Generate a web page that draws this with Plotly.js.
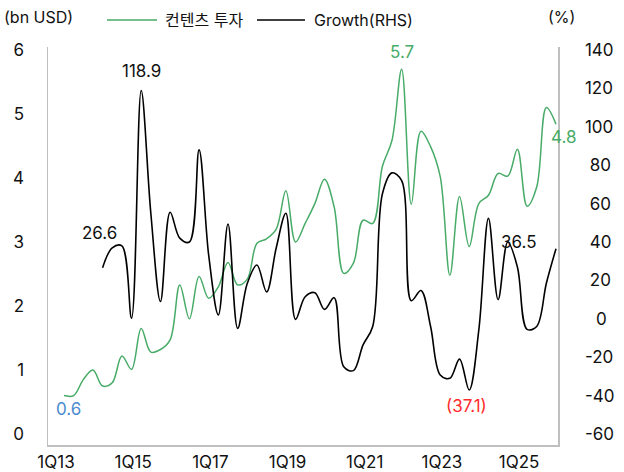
<!DOCTYPE html>
<html>
<head>
<meta charset="utf-8">
<script src="https://cdn.plot.ly/plotly-3.0.1.min.js"></script>
<style>html,body{margin:0;padding:0;background:#fff;}#chart{width:624px;height:472px;}</style>
</head>
<body>
<div id="chart"></div>
<script>
const quarters = [];
for (let y = 13; y <= 25; y++) for (let q = 1; q <= 4; q++) quarters.push(q + 'Q' + y);

const contentInvestment = [
  0.60, 0.60, 0.85, 1.00, 0.75, 0.80, 1.22, 1.01, 1.65, 1.28,
  1.32, 1.47, 2.33, 1.80, 2.46, 2.12, 2.30, 2.68, 2.33, 2.42,
  2.98, 3.05, 3.20, 3.80, 3.00, 3.29, 3.60, 3.98, 3.55, 2.51,
  2.67, 3.34, 3.29, 4.18, 4.59, 5.70, 3.59, 4.73, 4.49, 4.02,
  2.48, 3.71, 2.93, 3.60, 3.73, 4.07, 4.03, 4.45, 3.56, 3.86,
  5.10, 4.84
];

const growth = [
  null, null, null, null,
  26.6, 37, 38, 0.3, 118.9, 55,
  9, 55.5, 42, 40, 88, 33, 2, 49.4, -5, 18.5,
  28, 14, 37, 55, -0.3, 11.5, 13.6, 4.9, 11, -25,
  -27, -13.6, -4, 65, 76, 72, 9.4, 14.7, -4, -29.3,
  -31, -21, -37.1, -5.8, 52.3, 10, 40, 27, -5.5, -4,
  18.5, 36.5
];

const seriesNames = ['컨텐츠 투자', 'Growth(RHS)'];
const leftTicks = [0, 1, 2, 3, 4, 5, 6];
const rightTicks = [-60, -40, -20, 0, 20, 40, 60, 80, 100, 120, 140];
const xTickLabels = quarters.filter((q, i) => i % 8 === 0);

// centre right-axis labels on a 3-character slot (as in the reference)
const rightTickText = rightTicks.map(v => {
  const s = String(v);
  if (s.length === 1) return '\u2007' + s;
  if (s.length === 2) return '\u2008' + s;
  return s;
});

const FONT = 'Inter, "Noto Sans CJK KR", sans-serif';
const GREEN = '#48ab68';
const AXIS = '#bfbfbf';
const NUM = 17;

const last = quarters.length - 1;
const annotations = [
  {x: quarters[8], y: growth[8], yref: 'y2', text: '118.9', font: {color: '#111', size: NUM}, yshift: 20},
  {x: quarters[4], y: growth[4], yref: 'y2', text: '26.6', font: {color: '#111', size: NUM}, yshift: 35, xshift: -3},
  {x: quarters[35], y: contentInvestment[35], yref: 'y', text: '5.7', font: {color: GREEN, size: NUM}, yshift: 17},
  {x: quarters[last], y: contentInvestment[last], yref: 'y', text: '4.8', font: {color: GREEN, size: NUM}, yshift: -13, xshift: 7},
  {x: quarters[last], y: growth[last], yref: 'y2', text: '36.5', font: {color: '#111', size: NUM}, yshift: 7, xshift: -38},
  {x: quarters[0], y: contentInvestment[0], yref: 'y', text: '0.6', font: {color: '#4a8bd0', size: NUM}, yshift: -13, xshift: 4},
  {x: quarters[42], y: growth[42], yref: 'y2', text: '(37.1)', font: {color: '#ff2b2b', size: NUM}, yshift: -16, xshift: -3},
  {xref: 'paper', yref: 'paper', x: -0.0196, y: 1.0754, text: '(bn USD)', font: {color: '#111', size: 16}},
  {xref: 'paper', yref: 'paper', x: 1.006, y: 1.0754, text: '(%)', font: {color: '#111', size: 16}},
  // legend texts
  {xref: 'paper', yref: 'paper', x: 0.2255, y: 1.0678, xanchor: 'left', text: seriesNames[0], font: {color: '#111', size: 16}},
  {xref: 'paper', yref: 'paper', x: 0.5176, y: 1.0678, xanchor: 'left', text: seriesNames[1], font: {color: '#111', size: 16}}
].map(a => Object.assign({xref: 'x', showarrow: false, xanchor: 'center', yanchor: 'middle'}, a));

const shapes = [
  {type: 'line', xref: 'paper', yref: 'paper', x0: 0.1157, x1: 0.2137, y0: 1.0678, y1: 1.0678, line: {color: GREEN, width: 1.5}},
  {type: 'line', xref: 'paper', yref: 'paper', x0: 0.4098, x1: 0.5039, y0: 1.0678, y1: 1.0678, line: {color: '#000', width: 1.5}}
];

const data = [
  {x: quarters, y: contentInvestment, name: seriesNames[0], type: 'scatter', mode: 'lines',
   line: {color: GREEN, width: 1.5, shape: 'spline', smoothing: 1}, yaxis: 'y'},
  {x: quarters, y: growth, name: seriesNames[1], type: 'scatter', mode: 'lines',
   line: {color: '#000', width: 1.6, shape: 'spline', smoothing: 1}, yaxis: 'y2', connectgaps: false}
];

const layout = {
  width: 624, height: 472,
  margin: {l: 48, r: 66, t: 47, b: 27, autoexpand: false},
  paper_bgcolor: '#fff', plot_bgcolor: '#fff',
  font: {family: FONT, size: 16, color: '#111'},
  showlegend: false,
  xaxis: {type: 'category', range: [-1.659, 51.207], tickmode: 'array', tickvals: xTickLabels, ticktext: xTickLabels,
          showgrid: false, zeroline: false, showline: true, linecolor: AXIS, linewidth: 1.5,
          ticks: '', ticklabelstandoff: 1, ticklabelshift: -8, tickfont: {size: NUM}},
  yaxis: {range: [-0.1719, 6.0469], tickmode: 'array', tickvals: leftTicks, showgrid: false, zeroline: false,
          showline: true, linecolor: AXIS, linewidth: 1.5, ticks: '', ticklabelstandoff: 19, tickfont: {size: NUM}},
  yaxis2: {range: [-65.73, 141.56], overlaying: 'y', side: 'right', tickmode: 'array', tickvals: rightTicks,
           ticktext: rightTickText,
           showgrid: false, zeroline: false, showline: true, linecolor: AXIS, linewidth: 1.5, ticks: '',
           ticklabelstandoff: 22, tickfont: {size: NUM}},
  shapes: shapes,
  annotations: annotations
};

Plotly.newPlot('chart', data, layout, {displayModeBar: false, staticPlot: true});
</script>
</body>
</html>
